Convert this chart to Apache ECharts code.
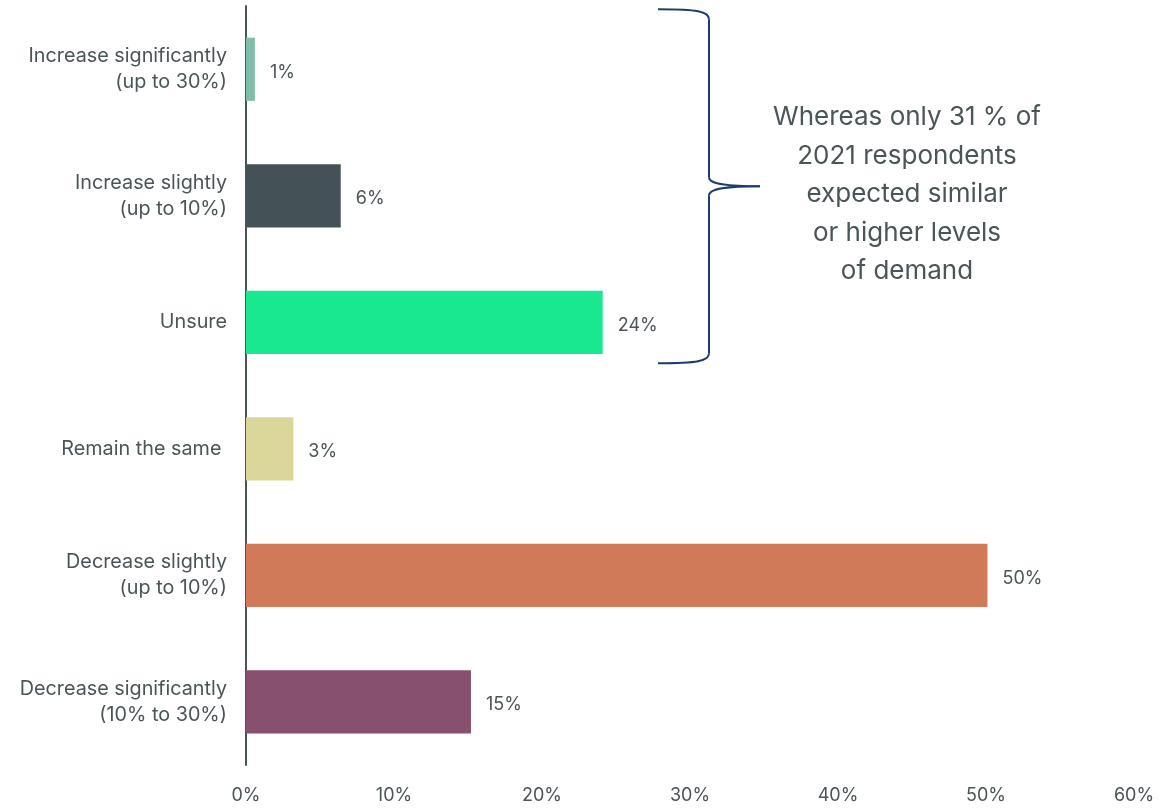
<!DOCTYPE html>
<html>
<head>
<meta charset="utf-8">
<script src="https://cdn.jsdelivr.net/npm/echarts@6/dist/echarts.min.js"></script>
<style>
html,body{margin:0;padding:0;background:#fff;}
#chart{width:1176px;height:808px;}
</style>
</head>
<body>
<div id="chart"></div>
<script>
const categories = [
  'Increase significantly\n(up to 30%)',
  'Increase slightly\n(up to 10%)',
  'Unsure',
  'Remain the same ',
  'Decrease slightly\n(up to 10%)',
  'Decrease significantly\n(10% to 30%)'
];
const values = [0.6, 6.4, 24.1, 3.2, 50.1, 15.2];
const barColors = ['#7fbfa9', '#445257', '#19e890', '#dbd79b', '#d17a5a', '#87506f'];
const xTicks = { min: 0, max: 60, interval: 10 };
const noteText = 'Whereas only 31 % of\n2021 respondents\nexpected similar\nor higher levels\nof demand';

const textColor = '#4a5558';
const font = 'Inter, "Noto Sans", sans-serif';

const chart = echarts.init(document.getElementById('chart'), null, { renderer: 'canvas' });
const option = {
  backgroundColor: '#ffffff',
  animation: false,
  grid: { left: 246, right: 42, top: 6, bottom: 43, containLabel: false },
  xAxis: {
    type: 'value',
    min: xTicks.min, max: xTicks.max, interval: xTicks.interval,
    axisLine: { show: false },
    axisTick: { show: false },
    splitLine: { show: false },
    axisLabel: { formatter: '{value}%', color: textColor, fontFamily: font, fontSize: 18, margin: 22 }
  },
  yAxis: {
    type: 'category',
    data: categories,
    inverse: true,
    axisLine: { show: true, lineStyle: { color: textColor, width: 2 } },
    axisTick: { show: false },
    axisLabel: {
      color: textColor, fontFamily: font, fontSize: 19.8, lineHeight: 26, margin: 19, align: 'right',
      verticalAlign: 'middle', padding: [5, 0, 0, 0]
    }
  },
  series: [{
    type: 'bar',
    data: values.map((v, i) => ({ value: v, itemStyle: { color: barColors[i] } })),
    barWidth: '50%',
    label: {
      show: true, position: 'right', distance: 15, offset: [0, 3],
      color: textColor, fontFamily: font, fontSize: 18,
      formatter: p => Math.round(p.value) + '%'
    }
  }]
};
chart.setOption(option);

// brace annotation spanning the first three categories
const yTop = chart.convertToPixel({ yAxisIndex: 0 }, 0) - 60;
const yBot = chart.convertToPixel({ yAxisIndex: 0 }, 2) + 41;
const yMid = (yTop + yBot) / 2;
const xL = 658, xV = 709, xTip = 760;
const braceStyle = { fill: null, stroke: '#1f3a6e', lineWidth: 2 };
const bez = (x1, y1, cx1, cy1, cx2, cy2, x2, y2) => ({
  type: 'bezierCurve',
  shape: { x1, y1, cpx1: cx1, cpy1: cy1, cpx2: cx2, cpy2: cy2, x2, y2 },
  style: braceStyle
});
const seg = (x1, y1, x2, y2) => ({ type: 'line', shape: { x1, y1, x2, y2 }, style: braceStyle });

chart.setOption({
  graphic: [
    bez(xL, yTop, xV - 12, yTop, xV, yTop + 2, xV, yTop + 10),
    seg(xV, yTop + 10, xV, yMid - 9),
    bez(xV, yMid - 9, xV, yMid - 2, xV + 18, yMid, xTip, yMid),
    bez(xTip, yMid, xV + 18, yMid, xV, yMid + 2, xV, yMid + 9),
    seg(xV, yMid + 9, xV, yBot - 10),
    bez(xV, yBot - 10, xV, yBot - 2, xV - 12, yBot, xL, yBot),
    { type: 'text', x: 907, y: yMid + 8, style: { text: noteText, fill: textColor, font: '26px ' + font, lineHeight: 38.5, align: 'center', verticalAlign: 'middle' } }
  ]
});
</script>
</body>
</html>
